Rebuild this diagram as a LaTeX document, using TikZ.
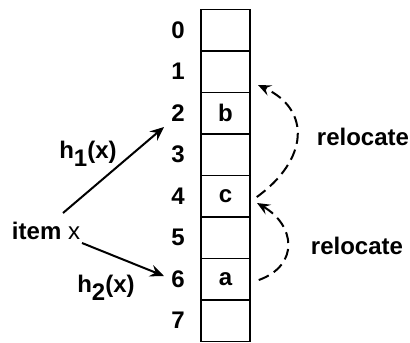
\documentclass[tikz,border=0pt]{standalone}
\usepackage{fontspec}
\setmainfont{Liberation Sans}
\usetikzlibrary{arrows.meta}
\begin{document}
\begin{tikzpicture}[x=1pt,y=-1pt,
  cellbox/.style={draw, line width=1.5pt, minimum width=49pt, minimum height=41.5pt, inner sep=0pt, font=\fontsize{24}{28}\selectfont\bfseries},
  idx/.style={font=\fontsize{24}{28}\selectfont\bfseries, inner sep=0pt},
  lbl/.style={font=\fontsize{24}{28}\selectfont\bfseries, inner sep=0pt},
  harrow/.style={line width=2pt, -{Stealth[length=14pt,width=12pt,inset=5pt]}},
  relarrow/.style={line width=2pt, dash pattern=on 11pt off 6pt, -{Stealth[length=13pt,width=11pt,inset=5pt]}}
]
\useasboundingbox (0,0) rectangle (410,343);
\foreach \i/\t in {0/,1/,2/b,3/,4/c,5/,6/a,7/} {
  \node[cellbox] (c\i) at (225.5, 30.05+41.5*\i) {\t};
  \node[idx] (n\i) at (178, 30.05+41.5*\i) {\i};
}
\node[lbl, anchor=base] (item) at (46,239) {item \mdseries x};
\node[lbl, anchor=base] (h1) at (88,158) {h\raisebox{-8pt}{1}(x)};
\node[lbl, anchor=base] (h2) at (106,292) {h\raisebox{-8pt}{2}(x)};
\node[lbl] (r1) at (363,137) {relocate};
\node[lbl] (r2) at (357,246) {relocate};
\coordinate (s1) at (63,213);
\coordinate (e1) at (164,127);
\coordinate (s2) at (82,243);
\coordinate (e2) at (164,276);
\draw[harrow] (s1) -- (e1);
\draw[harrow] (s2) -- (e2);
\coordinate (a1) at ([xshift=8pt,yshift=-1pt]c6.east);
\draw[relarrow] (a1) .. controls (300,265) and (295,225) .. (257,203);
\coordinate (a2) at ([xshift=6pt,yshift=-1pt]c4.east);
\draw[relarrow] (a2) .. controls (308,160) and (312,110) .. (258,85);
\end{tikzpicture}
\end{document}
